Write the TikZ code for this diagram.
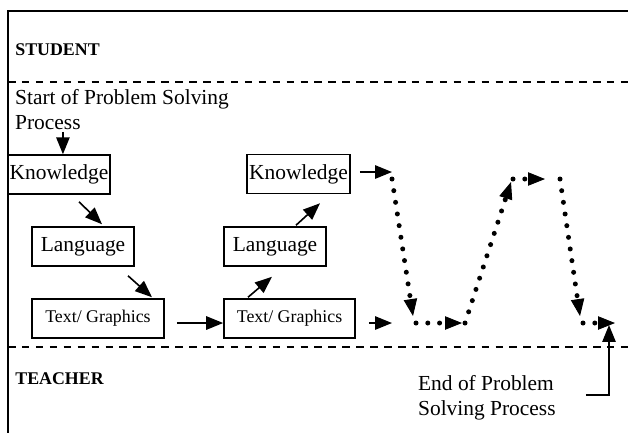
\documentclass[tikz,border=0pt]{standalone}
\usepackage{fontspec}
\setmainfont{Liberation Serif}
\usetikzlibrary{arrows.meta}

\begin{document}
\begin{tikzpicture}[x=0.56pt, y=-0.56pt,
    box/.style={draw, line width=0.9pt, inner sep=0pt, minimum height=21.8pt,
      text height=8pt, text depth=2.4pt, font=\fontsize{12}{14}\selectfont},
    smallbox/.style={box, text height=7pt, text depth=2.4pt, font=\fontsize{10}{12}\selectfont},
    arr/.style={line width=0.9pt, -{Triangle[length=9.5pt,width=7.5pt]}},
    dotarr/.style={line width=2.8pt, line cap=round, dash pattern=on 0pt off 6.6pt,
      -{Triangle[length=9.5pt,width=7.5pt,line width=0.5pt]}},
    lane/.style={line width=0.8pt, dash pattern=on 4.2pt off 3.6pt},
    role/.style={font=\fontsize{10}{12}\selectfont\bfseries, anchor=west, inner sep=0pt},
    note/.style={font=\fontsize{12}{14}\selectfont, align=left, anchor=west, inner sep=1pt}]
    \useasboundingbox (0,0) rectangle (628,432);
    \clip (0,0) rectangle (628,432);

    % Frame and lanes
    \draw[line width=1pt] (8,440) |- (640,11);
    \draw[lane] (8,82) -- (640,82);
    \draw[lane] (8,347) -- (640,347);
    \node[role] (student) at (15,50) {STUDENT};
    \node[role] (teacher) at (15,379) {TEACHER};

    % First pass
    \node[note] (start) at (13,109.5) {Start of Problem Solving\\Process};
    \node[box, minimum width=57.1pt] (know1) at (59,174.5) {Knowledge};
    \node[box, minimum width=57.1pt] (lang1) at (83,246.5) {Language};
    \node[smallbox, minimum width=73.9pt] (text1) at (98,318.5) {Text/ Graphics};
    \draw[arr] ([xshift=2.2pt]start.south -| know1.north) -- ([xshift=2.2pt]know1.north);
    \draw[arr] ([shift={(20,7)}]know1.south) -- ([shift={(19,-2)}]lang1.north);
    \draw[arr] ([shift={(45,9)}]lang1.south) -- ([shift={(54,-1)}]text1.north);

    % Second pass
    \node[smallbox, minimum width=73.4pt] (text2) at (289.5,318.5) {Text/ Graphics};
    \node[box, minimum width=57.1pt] (lang2) at (275,246.5) {Language};
    \node[box, minimum width=57.7pt] (know2) at (298.5,174) {Knowledge};
    \draw[arr] ([shift={(12,4.5)}]text1.east) -- ([shift={(0,4.5)}]text2.west);
    \draw[arr] ([shift={(-41.5,-1)}]text2.north) -- ([shift={(-3,10)}]lang2.south);
    \draw[arr] ([shift={(21,-1)}]lang2.north) -- ([shift={(21.5,9)}]know2.south);

    % Dotted path to the end
    \coordinate (d1) at (392,179);
    \coordinate (d2) at (413,316);
    \coordinate (d3) at (416,323);
    \coordinate (d4) at (462,323);
    \coordinate (d5) at (465,323);
    \coordinate (d6) at (511,182);
    \coordinate (d7) at (513,179);
    \coordinate (d8) at (545,179);
    \coordinate (d9) at (560,179);
    \coordinate (d10) at (580,316);
    \coordinate (d11) at (583,323);
    \coordinate (d12) at (615,323);
    \coordinate (t1) at (392,172);
    \coordinate (t2) at (392,323);
    \draw[arr] ([shift={(9,-2)}]know2.east) -- (t1);
    \draw[arr] ([shift={(13,4.5)}]text2.east) -- (t2);
    \draw[dotarr] (d1) -- (d2);
    \draw[dotarr] (d3) -- (d4);
    \draw[dotarr] (d5) -- (d6);
    \draw[dotarr] (d7) -- (d8);
    \draw[dotarr] (d9) -- (d10);
    \draw[dotarr] (d11) -- (d12);

    % End
    \node[note] (finish) at (416,397.5) {End of Problem\\Solving Process};
    \coordinate (e1) at (609,325);
    \draw[arr] ([shift={(28,-2.5)}]finish.east) -| (e1);
\end{tikzpicture}
\end{document}
